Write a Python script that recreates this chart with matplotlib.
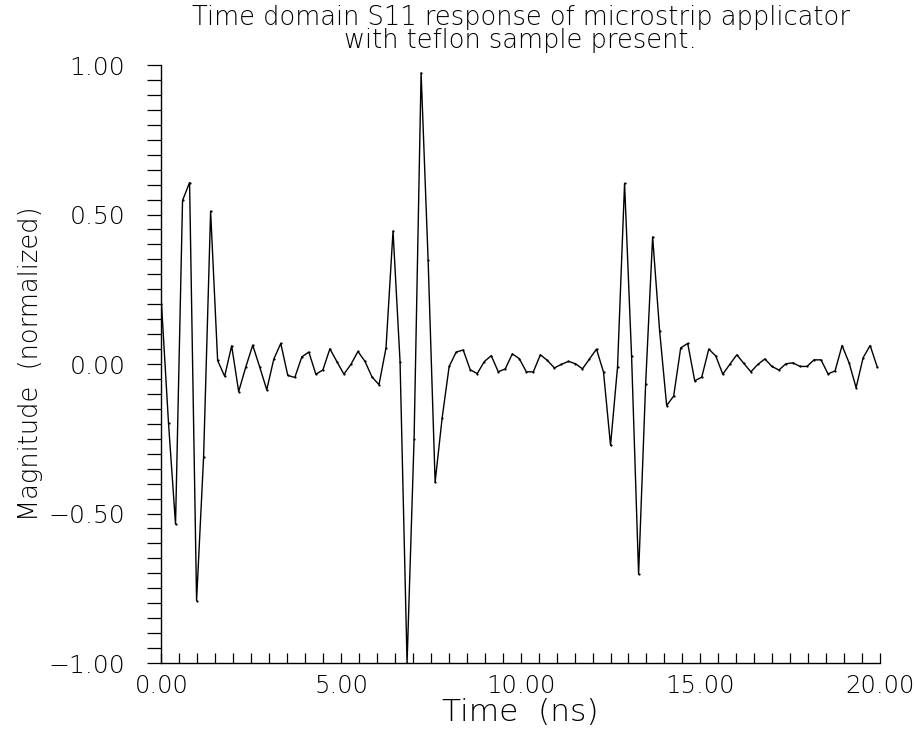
import numpy as np
import matplotlib
matplotlib.use("Agg")
import matplotlib.pyplot as plt
from matplotlib.ticker import MultipleLocator, FuncFormatter

# sampled time-domain S11, normalized; sample step 0.1953 ns
t_step = 0.1953125
magnitude = [
    0.201, -0.198, -0.536, 0.547, 0.607, -0.791, -0.311, 0.511, 0.012, -0.041,
    0.061, -0.092, -0.011, 0.063, -0.010, -0.086, 0.016, 0.069, -0.038, -0.045,
    0.024, 0.040, -0.034, -0.020, 0.051, 0.008, -0.034, -0.001, 0.042, 0.009,
    -0.043, -0.069, 0.054, 0.445, 0.008, -1.000, -0.251, 0.974, 0.348, -0.395,
    -0.180, -0.008, 0.040, 0.047, -0.019, -0.032, 0.008, 0.028, -0.026, -0.016,
    0.034, 0.018, -0.026, -0.026, 0.031, 0.012, -0.013, -0.001, 0.009, 0.001,
    -0.016, 0.017, 0.050, -0.027, -0.272, -0.009, 0.604, 0.026, -0.703, -0.068,
    0.425, 0.110, -0.139, -0.107, 0.054, 0.069, -0.056, -0.044, 0.050, 0.027,
    -0.034, -0.001, 0.031, 0.002, -0.026, -0.001, 0.017, -0.008, -0.020, 0.001,
    0.004, -0.008, -0.008, 0.014, 0.014, -0.033, -0.023, 0.062, 0.004, -0.079,
    0.021, 0.062, -0.009,
]
time = np.arange(len(magnitude)) * t_step

title = "Time domain S11 response of microstrip applicator\nwith teflon sample present."
xlabel = "Time  (ns)"
ylabel = "Magnitude  (normalized)"

plt.rcParams['font.family'] = ['DejaVu Sans']
plt.rcParams['font.weight'] = 'light'
plt.rcParams['axes.titleweight'] = 'light'
plt.rcParams['axes.labelweight'] = 'light'

fig = plt.figure(figsize=(9.15, 7.31), dpi=100)
ax = fig.add_axes([0.1765, 0.093, 0.7852, 0.818])

ax.plot(time, magnitude, color='black', linewidth=1.0,
        marker='o', markersize=1.6, markerfacecolor='black', markeredgewidth=0)

ax.set_xlim(0, 20)
ax.set_ylim(-1, 1)

ax.spines['top'].set_visible(False)
ax.spines['right'].set_visible(False)
ax.spines['left'].set_linewidth(1.0)
ax.spines['bottom'].set_linewidth(1.0)

ax.xaxis.set_major_locator(MultipleLocator(5))
ax.xaxis.set_minor_locator(MultipleLocator(0.5))
ax.yaxis.set_major_locator(MultipleLocator(0.5))
ax.yaxis.set_minor_locator(MultipleLocator(0.05))

fmt = FuncFormatter(lambda v, p: f"{v:.2f}".replace('-', '\u2212'))
ax.xaxis.set_major_formatter(fmt)
ax.yaxis.set_major_formatter(fmt)

ax.tick_params(axis='x', which='both', direction='in', length=7, width=0.9,
               labelsize=17.5, pad=8)
ax.tick_params(axis='y', which='both', direction='out', length=10, width=0.9,
               labelsize=18, pad=16)

ax.set_xlabel(xlabel, fontsize=22.5, labelpad=0)
ax.set_ylabel(ylabel, fontsize=18.5, labelpad=4)
ax.set_title(title, fontsize=18.5, linespacing=0.92, pad=12)

fig.savefig("out.png", dpi=100)
